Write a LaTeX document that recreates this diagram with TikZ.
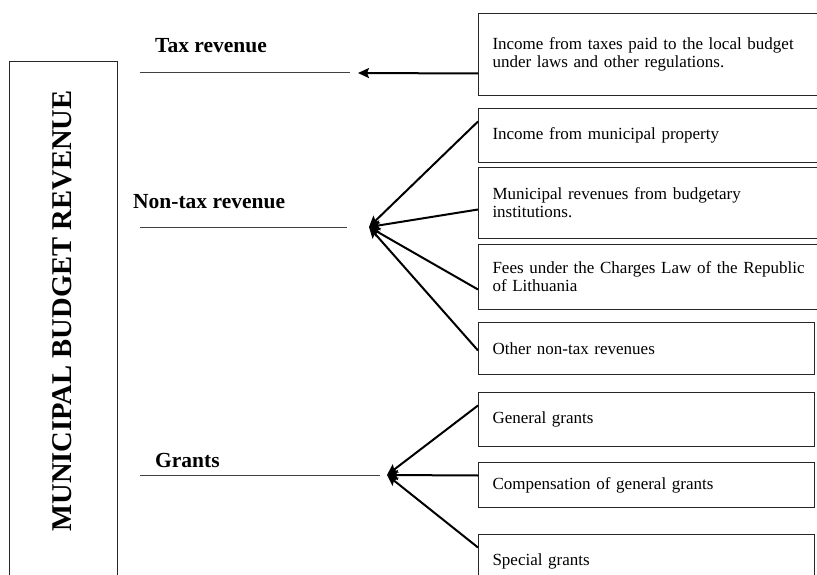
\documentclass[tikz,border=0pt]{standalone}
\usepackage{fontspec}
\setmainfont{Liberation Serif}
\usetikzlibrary{arrows.meta}

\begin{document}
\begin{tikzpicture}[x=1pt,y=-1pt,
  infobox/.style={draw=black!85,line width=1pt,anchor=north west,inner xsep=14pt,inner ysep=0pt,align=left,font=\fontsize{17}{18}\selectfont},
  heading/.style={anchor=base west,inner sep=0pt,font=\fontsize{21.5}{24}\selectfont\bfseries},
  rule/.style={black!75,line width=1pt},
  fan/.style={line width=2pt,-{Stealth[length=11pt,width=10pt,inset=2pt]}}]
  \useasboundingbox (0,0) rectangle (817,575);
  \clip (0,0) rectangle (817,575);
  % left frame with the vertical title
  \node[draw=black!85,line width=1pt,anchor=north west,minimum width=108pt,minimum height=560pt] (frame) at (9,61) {};
  \node[rotate=90,font=\fontsize{28.6}{30}\selectfont\bfseries] (title) at (62,311) {MUNICIPAL BUDGET REVENUE};
  % headings and their rules
  \node[heading] (tax) at (155,53) {Tax revenue};
  \node[heading] (nontax) at (133,208) {Non-tax revenue};
  \node[heading] (grants) at (155,467) {Grants};
  \draw[rule] (140,73) -- (350,73);
  \draw[rule] (140,227) -- (347,227);
  \draw[rule] (140,475) -- (380,475);
  % source boxes
  \foreach \n/\t/\h/\w/\txt in {
    taxsrc/13/82/330/{Income from taxes paid to the local budget\\under laws and other regulations.},
    prop/108/54/330/{Income from municipal property},
    inst/167/71/330/{Municipal revenues from budgetary\\institutions.},
    fees/244/65/330/{Fees under the Charges Law of the Republic\\of Lithuania},
    other/322/52/308/{Other non-tax revenues},
    general/392/54/308/{General grants},
    comp/462/45/308/{Compensation of general grants},
    special/534/54/308/{Special grants}}
    \node[infobox,text width=\w pt,minimum height=\h pt] (\n) at (478,\t) {\txt};
  % arrows into the headings
  \coordinate (taxtip) at (358,73);
  \coordinate (ntxtip) at (369,227);
  \coordinate (grtip) at (387,475);
  \draw[fan] ([yshift=-19pt]taxsrc.west) -- (taxtip);
  \foreach \b/\dy in {prop/14,inst/-6.5,fees/-12.5,other/-2}
    \draw[fan] ([yshift=\dy pt]\b.west) -- (ntxtip);
  \foreach \b/\dy in {general/14,comp/9.5,special/14}
    \draw[fan] ([yshift=\dy pt]\b.west) -- (grtip);
\end{tikzpicture}
\end{document}
